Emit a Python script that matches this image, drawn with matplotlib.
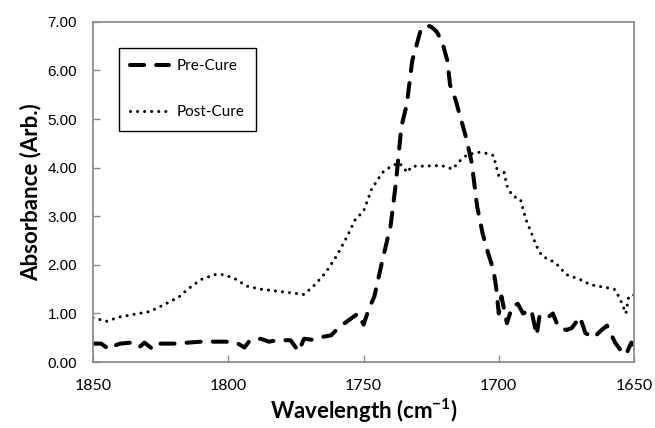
import matplotlib
matplotlib.use("Agg")
import matplotlib.pyplot as plt

# datos
pre_x = [1850, 1847, 1844, 1842, 1840, 1836, 1833, 1831, 1828, 1826, 1823, 1819, 1815,
         1810, 1806, 1801, 1797, 1794, 1792, 1788, 1785, 1782, 1777, 1774, 1772, 1769,
         1765, 1762, 1759, 1755, 1752, 1750, 1748, 1746, 1743, 1740, 1738, 1736, 1734,
         1732, 1729, 1727, 1725, 1723, 1721, 1719, 1718, 1716, 1714, 1712, 1710, 1708,
         1706, 1704, 1702, 1701, 1700, 1699, 1697, 1695, 1693, 1691, 1688, 1686, 1685,
         1683, 1680, 1678, 1675, 1673, 1670, 1668, 1665, 1662, 1660, 1657, 1655, 1653,
         1651, 1650]
pre_y = [0.38, 0.38, 0.26, 0.34, 0.38, 0.40, 0.30, 0.40, 0.27, 0.38, 0.38, 0.38, 0.40,
         0.42, 0.42, 0.42, 0.40, 0.30, 0.45, 0.48, 0.42, 0.45, 0.45, 0.22, 0.48, 0.46,
         0.52, 0.55, 0.72, 0.88, 1.00, 0.77, 1.10, 1.35, 2.10, 2.80, 3.70, 4.85, 5.30,
         6.20, 6.80, 6.93, 6.90, 6.80, 6.60, 6.20, 5.70, 5.40, 5.00, 4.60, 4.10, 3.20,
         2.65, 2.25, 1.90, 1.55, 1.00, 1.35, 0.80, 1.15, 1.20, 1.00, 1.08, 0.55, 0.93,
         0.87, 1.00, 0.72, 0.66, 0.70, 0.93, 0.60, 0.50, 0.66, 0.75, 0.40, 0.25, 0.15,
         0.40, 0.35]

post_x = [1850, 1845, 1840, 1835, 1829, 1823, 1818, 1815, 1810, 1805, 1802, 1798, 1793,
          1788, 1782, 1776, 1772, 1768, 1764, 1760, 1756, 1753, 1750, 1747, 1743, 1740,
          1737, 1735, 1734, 1732, 1728, 1724, 1721, 1717, 1715, 1712, 1708, 1705, 1702,
          1701, 1700, 1698, 1697, 1695, 1692, 1690, 1688, 1686, 1684, 1681, 1679, 1675,
          1670, 1666, 1660, 1657, 1655, 1653, 1652, 1650]
post_y = [0.91, 0.84, 0.93, 0.98, 1.04, 1.20, 1.35, 1.50, 1.70, 1.80, 1.80, 1.73, 1.56,
          1.50, 1.46, 1.42, 1.39, 1.59, 1.84, 2.18, 2.59, 2.94, 3.10, 3.56, 3.90, 4.02,
          4.10, 4.00, 3.90, 4.03, 4.03, 4.04, 4.04, 3.97, 4.11, 4.25, 4.32, 4.30, 4.25,
          4.04, 3.83, 3.90, 3.63, 3.42, 3.35, 2.94, 2.66, 2.38, 2.18, 2.10, 2.04, 1.80,
          1.70, 1.59, 1.53, 1.49, 1.28, 1.00, 1.35, 1.38]

x_ticks = [1850, 1800, 1750, 1700, 1650]
y_ticks = [0, 1, 2, 3, 4, 5, 6, 7]

plt.rcParams['mathtext.fontset'] = 'custom'
plt.rcParams['mathtext.rm'] = 'Lato:bold'
plt.rcParams['mathtext.bf'] = 'Lato:bold'

fig = plt.figure(figsize=(6.55, 4.28), dpi=100)
ax = fig.add_axes([0.142, 0.154, 0.826, 0.795])

ax.plot(pre_x, pre_y, color='black', lw=2.9, linestyle=(0, (3.5, 3.0)),
        dash_capstyle='round', label='Pre-Cure')
ax.plot(post_x, post_y, color='black', lw=2.2, linestyle=(0, (0.01, 2.3)),
        dash_capstyle='round', label='Post-Cure')

ax.set_xlim(1850, 1650)
ax.set_ylim(0, 7)
ax.set_xticks(x_ticks)
ax.set_xticklabels([str(v) for v in x_ticks], fontfamily='Lato', fontsize=11.5)
ax.set_yticks(y_ticks)
ax.set_yticklabels(['%.2f' % v for v in y_ticks], fontfamily='Liberation Sans', fontsize=11)
ax.tick_params(direction='in', length=5, width=1, color='#8c8c8c')
ax.tick_params(axis='x', pad=12)
ax.tick_params(axis='y', pad=11.5)

for s in ax.spines.values():
    s.set_color('#8c8c8c')
    s.set_linewidth(1.3)

ax.set_xlabel(r'Wavelength (cm$^{-1}$)', fontfamily='Lato', fontweight='bold',
              fontsize=16, labelpad=3)
ax.set_ylabel('Absorbance (Arb.)', fontfamily='Lato', fontweight='bold',
              fontsize=16, labelpad=4)

leg = ax.legend(loc='upper left', bbox_to_anchor=(0.048, 0.924), borderaxespad=0,
                prop={'family': 'Lato', 'size': 11}, handlelength=2.5,
                handletextpad=0.5, labelspacing=2.1, borderpad=0.75,
                fancybox=False, framealpha=1)
leg.get_frame().set_edgecolor('black')
leg.get_frame().set_linewidth(1.0)

fig.savefig('out.png', dpi=100)
